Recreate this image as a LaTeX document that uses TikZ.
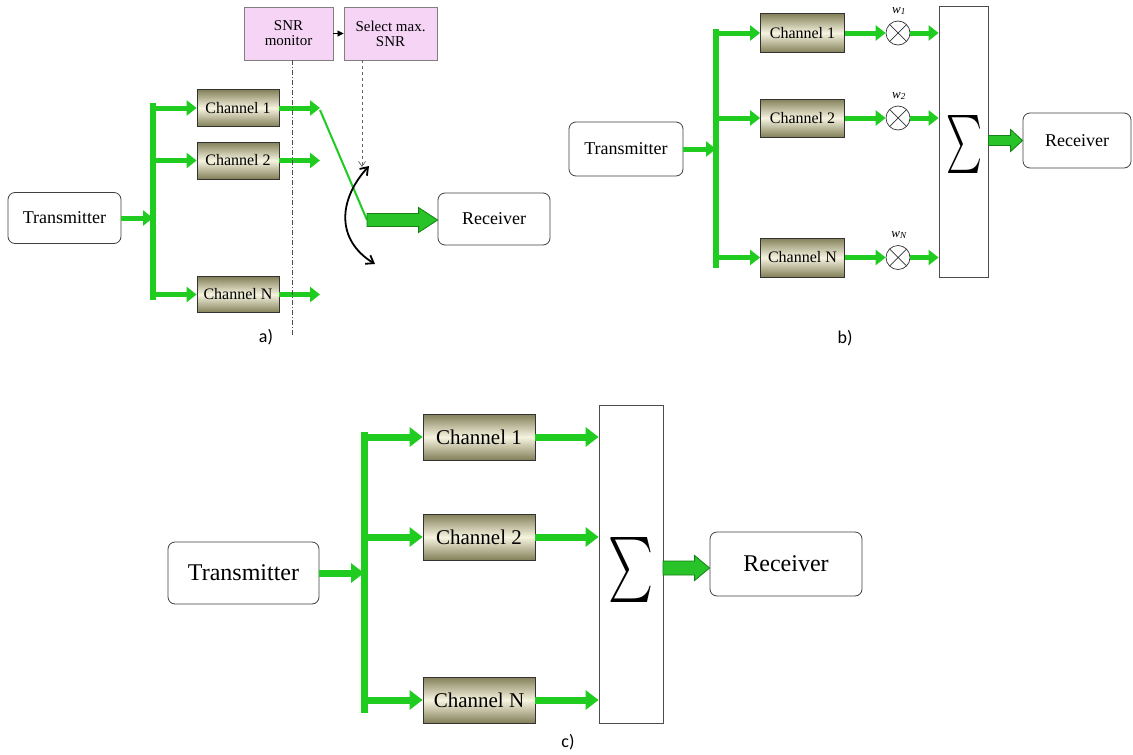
\documentclass[tikz,border=0pt]{standalone}
\usepackage{fontspec}
\setmainfont{Liberation Serif}
\newfontfamily\labfont{Carlito}
\usetikzlibrary{arrows.meta,calc}
\definecolor{gr}{RGB}{32,204,32}
\definecolor{dgr}{RGB}{20,130,20}
\definecolor{bgr}{RGB}{40,195,40}
\definecolor{olv}{RGB}{130,127,88}
\definecolor{crm}{RGB}{246,244,224}
\definecolor{pnk}{RGB}{246,212,246}
\newcommand\fsz[1]{\fontsize{#1}{#1}\selectfont}
\newcommand\barrow[5]{%
  \path let \p1=(#1), \p2=(#2) in [fill=bgr, draw=dgr, line width=0.8pt]
   (\x1,\y1+#3) -- (\x2-#5,\y1+#3) -- (\x2-#5,\y1+#4) -- (\x2,\y1) --
   (\x2-#5,\y1-#4) -- (\x2-#5,\y1-#3) -- (\x1,\y1-#3) -- cycle;}
\tikzset{
 box/.style={draw=black!75, rounded corners=7pt, fill=white, inner sep=0pt, line width=0.8pt},
 chan/.style={draw=black!80, top color=olv, bottom color=olv, middle color=crm, inner sep=0pt, line width=0.8pt},
 pinkbox/.style={draw=black!50, fill=pnk, inner sep=0pt, align=center, line width=0.8pt},
 sumbox/.style={draw=black!70, fill=white, inner sep=0pt, line width=0.8pt},
 mult/.style={circle, draw=black!80, fill=white, minimum size=24pt, inner sep=0pt, line width=0.7pt,
   path picture={\draw[black!80, line width=0.7pt]
     (path picture bounding box.north west) -- (path picture bounding box.south east)
     (path picture bounding box.north east) -- (path picture bounding box.south west);}},
 garr/.style={draw=gr, line width=5pt, -{Triangle[length=10pt,width=15pt]}},
 garrc/.style={draw=gr, line width=7pt, -{Triangle[length=13pt,width=19pt]}},
 bus/.style={draw=gr, line width=5.5pt},
 busc/.style={draw=gr, line width=7pt},
 lab/.style={font=\labfont\fsz{18}},
 wlab/.style={font=\fsz{13}\itshape},
}
\begin{document}
\begin{tikzpicture}[x=1pt,y=-1pt]
\useasboundingbox[fill=white] (0,0) rectangle (1133,755);

% ---------------- panel a ----------------
\node[box, minimum width=113pt, minimum height=51pt, font=\fsz{18}] (txa) at (64.5,218) {Transmitter};
\coordinate (busat) at (153,103);
\coordinate (busab) at (153,300);
\draw[bus] (busat) -- (busab);
\node[chan, minimum width=82pt, minimum height=37pt, font=\fsz{16}] (ch1a) at (238,108) {Channel 1};
\node[chan, minimum width=82pt, minimum height=37pt, font=\fsz{16}] (ch2a) at (238,160.5) {Channel 2};
\node[chan, minimum width=82pt, minimum height=36pt, font=\fsz{16}] (chna) at (238,294.5) {Channel N};
\draw[garr] (txa.east) -- (busat |- txa.east);
\draw[garr] (busat |- ch1a.west) -- (ch1a.west);
\draw[garr] (busat |- ch2a.west) -- (ch2a.west);
\draw[garr] (busat |- chna.west) -- (chna.west);
\coordinate (o1a) at (320,108);
\coordinate (o2a) at (320,160.5);
\coordinate (ona) at (320,294.5);
\draw[garr] (ch1a.east) -- (o1a);
\draw[garr] (ch2a.east) -- (o2a);
\draw[garr] (chna.east) -- (ona);
\node[box, minimum width=112pt, minimum height=52pt, font=\fsz{18}] (rxa) at (494,219) {Receiver};
\coordinate (swa) at (367,220);
\draw[gr, line width=2pt] ($(o1a)+(0,2)$) -- (swa);
\barrow{swa}{rxa.west}{6.5pt}{12.5pt}{19pt}
\node[pinkbox, minimum width=89pt, minimum height=53pt, font=\fsz{15}] (snr) at (288.5,33.5) {SNR\\monitor};
\node[pinkbox, minimum width=93pt, minimum height=53pt, font=\fsz{15}] (sel) at (390.5,33.5) {Select max.\\SNR};
\draw[line width=0.7pt, -{Triangle[length=6pt,width=6pt]}] (snr.east) -- (sel.west);
\coordinate (dda) at (292,335);
\draw[black!70, line width=0.7pt, dash pattern=on 5pt off 2pt on 1pt off 2pt] (snr.south -| dda) -- (dda);
\coordinate (sela) at (362,167);
\draw[black!60, line width=0.7pt, dashed, -{Straight Barb[length=5pt,width=7pt]}] (sel.south -| sela) -- (sela);
\coordinate (sw1) at (369,166);
\coordinate (sw2) at (375,264);
\draw[line width=1.8pt, {Straight Barb[length=7pt,width=10pt]}-{Straight Barb[length=7pt,width=10pt]}]
  (sw1) .. controls (338,200) and (336,240) .. (sw2);
\node[lab] (la) at (266,337) {a)};

% ---------------- panel b ----------------
\node[box, minimum width=114pt, minimum height=54pt, font=\fsz{18}] (txb) at (626,149) {Transmitter};
\coordinate (busbt) at (716,29);
\coordinate (busbb) at (716,268);
\draw[bus] (busbt) -- (busbb);
\node[chan, minimum width=84pt, minimum height=39pt, font=\fsz{16}] (ch1b) at (802.5,33) {Channel 1};
\node[chan, minimum width=84pt, minimum height=38pt, font=\fsz{16}] (ch2b) at (802.5,118) {Channel 2};
\node[chan, minimum width=84pt, minimum height=39pt, font=\fsz{16}] (chnb) at (802.5,257.5) {Channel N};
\draw[garr] (txb.east) -- (busbt |- txb.east);
\draw[garr] (busbt |- ch1b.west) -- (ch1b.west);
\draw[garr] (busbt |- ch2b.west) -- (ch2b.west);
\draw[garr] (busbt |- chnb.west) -- (chnb.west);
\node[mult] (m1) at (898,33) {};
\node[mult] (m2) at (898,118) {};
\node[mult] (mn) at (898,257.5) {};
\draw[garr] (ch1b.east) -- (m1.west);
\draw[garr] (ch2b.east) -- (m2.west);
\draw[garr] (chnb.east) -- (mn.west);
\node[wlab] (w1) at (899,11) {w\textsubscript{\itshape 1}};
\node[wlab] (w2) at (899,96) {w\textsubscript{\itshape 2}};
\node[wlab] (wn) at (899,235) {w\textsubscript{\itshape N}};
\node[sumbox, minimum width=49pt, minimum height=271pt] (sb) at (963.5,141.5) {};
\node (sigb) at (964,144) {\resizebox*{36pt}{58pt}{$\sum$}};
\draw[garr] (m1.east) -- (sb.west |- m1.east);
\draw[garr] (m2.east) -- (sb.west |- m2.east);
\draw[garr] (mn.east) -- (sb.west |- mn.east);
\node[box, minimum width=108pt, minimum height=55pt, font=\fsz{18}] (rxb) at (1077,140.5) {Receiver};
\coordinate (sbo) at (sb.east |- rxb.west);
\barrow{sbo}{rxb.west}{5pt}{11pt}{12pt}
\node[lab] (lb) at (845,338) {b)};

% ---------------- panel c ----------------
\node[box, minimum width=151pt, minimum height=62pt, font=\fsz{24}] (txc) at (243.5,573) {Transmitter};
\coordinate (busct) at (364,432);
\coordinate (buscb) at (364,713);
\draw[busc] (busct) -- (buscb);
\node[chan, minimum width=112pt, minimum height=46pt, font=\fsz{21}] (ch1c) at (479,437) {Channel 1};
\node[chan, minimum width=112pt, minimum height=46pt, font=\fsz{21}] (ch2c) at (479,537) {Channel 2};
\node[chan, minimum width=112pt, minimum height=46pt, font=\fsz{21}] (chnc) at (479,700) {Channel N};
\draw[garrc] (txc.east) -- (busct |- txc.east);
\draw[garrc] (busct |- ch1c.west) -- (ch1c.west);
\draw[garrc] (busct |- ch2c.west) -- (ch2c.west);
\draw[garrc] (busct |- chnc.west) -- (chnc.west);
\node[sumbox, minimum width=64pt, minimum height=318pt] (sc) at (631,564) {};
\node (sigc) at (630.5,569.5) {\resizebox*{45pt}{65pt}{$\sum$}};
\draw[garrc] (ch1c.east) -- (sc.west |- ch1c.east);
\draw[garrc] (ch2c.east) -- (sc.west |- ch2c.east);
\draw[garrc] (chnc.east) -- (sc.west |- chnc.east);
\node[box, minimum width=152pt, minimum height=64pt, font=\fsz{24}] (rxc) at (786,564) {Receiver};
\coordinate (sco) at (663,568);
\barrow{sco}{rxc.west}{7pt}{12.5pt}{15pt}
\node[lab] (lc) at (568,742) {c)};
\end{tikzpicture}
\end{document}
